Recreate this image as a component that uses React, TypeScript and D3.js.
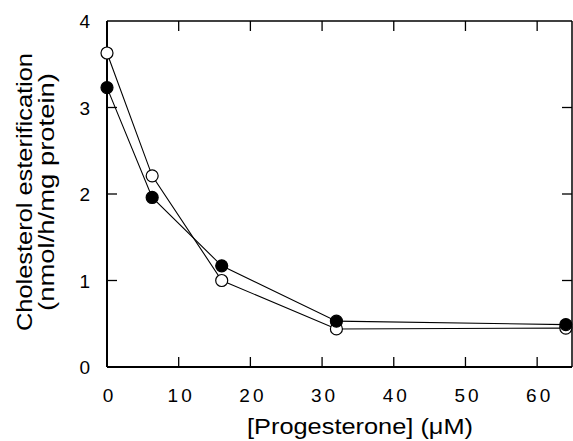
import React, { useEffect, useRef } from 'react';
import * as d3 from 'd3';

// progesterone concentration (uM)
const concentrations = [0, 6.3, 16, 32, 64];
// open circles
const openSeries = [3.63, 2.21, 1.0, 0.44, 0.45];
// filled circles
const filledSeries = [3.23, 1.96, 1.17, 0.53, 0.49];

const xTicks = [0, 10, 20, 30, 40, 50, 60];
const yTicks = [0, 1, 2, 3, 4];

const App: React.FC = () => {
  const svgRef = useRef<SVGSVGElement | null>(null);
  const width = 573;
  const height = 441;

  useEffect(() => {
    if (!svgRef.current) return;
    const svg = d3.select(svgRef.current);
    svg.selectAll('*').remove();

    const left = 107, right = 572, top = 21, bottom = 367;
    const x = d3.scaleLinear().domain([0, 65]).range([left, 573]);
    const y = d3.scaleLinear().domain([0, 4]).range([bottom, top]);
    const font = 'Liberation Sans, Arial, Helvetica, sans-serif';
    const tickLen = 10;

    // frame
    const frame = svg.append('g').attr('stroke', '#000').attr('stroke-width', 2).attr('fill', 'none');
    frame.append('line').attr('x1', left).attr('x2', left).attr('y1', top).attr('y2', bottom);
    frame.append('line').attr('x1', left).attr('x2', right).attr('y1', bottom).attr('y2', bottom);
    frame.append('line').attr('x1', left).attr('x2', right).attr('y1', top).attr('y2', top).attr('stroke-width', 1.5);
    frame.append('line').attr('x1', right).attr('x2', right).attr('y1', top).attr('y2', bottom).attr('stroke-width', 1.5);

    // inward ticks on all sides
    const ticks = svg.append('g').attr('stroke', '#000').attr('stroke-width', 1.3);
    xTicks.filter(t => t > 0).forEach(t => {
      ticks.append('line').attr('x1', x(t)).attr('x2', x(t)).attr('y1', bottom).attr('y2', bottom - tickLen);
      ticks.append('line').attr('x1', x(t)).attr('x2', x(t)).attr('y1', top).attr('y2', top + tickLen);
    });
    yTicks.filter(t => t > 0 && t < 4).forEach(t => {
      ticks.append('line').attr('x1', left).attr('x2', left + tickLen).attr('y1', y(t)).attr('y2', y(t));
      ticks.append('line').attr('x1', right).attr('x2', right - tickLen).attr('y1', y(t)).attr('y2', y(t));
    });

    // tick labels
    svg.append('g').selectAll('text')
      .data(xTicks).enter().append('text')
      .attr('x', d => x(d) + 2.5)
      .attr('y', 402)
      .attr('text-anchor', 'middle')
      .style('font-family', font)
      .style('font-size', '19px')
      .style('letter-spacing', '3px')
      .text(d => String(d));

    svg.append('g').selectAll('text')
      .data(yTicks).enter().append('text')
      .attr('x', 90)
      .attr('y', d => y(d) + 7)
      .attr('text-anchor', 'end')
      .style('font-family', font)
      .style('font-size', '19px')
      .text(d => String(d));

    // axis titles
    svg.append('text')
      .attr('x', 360)
      .attr('y', 434)
      .attr('text-anchor', 'middle')
      .attr('textLength', 226)
      .attr('lengthAdjust', 'spacingAndGlyphs')
      .style('font-family', font)
      .style('font-size', '22px')
      .text('[Progesterone] (\u03bcM)');

    const yTitle = svg.append('g').attr('transform', 'translate(0,192) rotate(-90)');
    yTitle.append('text')
      .attr('x', 0).attr('y', 32)
      .attr('text-anchor', 'middle')
      .attr('textLength', 278)
      .attr('lengthAdjust', 'spacingAndGlyphs')
      .style('font-family', font)
      .style('font-size', '22px')
      .text('Cholesterol esterification');
    yTitle.append('text')
      .attr('x', 0).attr('y', 54)
      .attr('text-anchor', 'middle')
      .attr('textLength', 238)
      .attr('lengthAdjust', 'spacingAndGlyphs')
      .style('font-family', font)
      .style('font-size', '22px')
      .text('(nmol/h/mg protein)');

    // series
    const line = d3.line<number>()
      .x((_, i) => x(concentrations[i]))
      .y(d => y(d));

    const series = [
      { values: openSeries, fill: '#fff' },
      { values: filledSeries, fill: '#000' },
    ];
    series.forEach(s => {
      svg.append('path')
        .attr('d', line(s.values))
        .attr('fill', 'none')
        .attr('stroke', '#000')
        .attr('stroke-width', 1.1);
    });
    series.forEach(s => {
      svg.append('g').selectAll('circle')
        .data(s.values).enter().append('circle')
        .attr('cx', (_, i) => x(concentrations[i]))
        .attr('cy', d => y(d))
        .attr('r', 6)
        .attr('fill', s.fill)
        .attr('stroke', '#000')
        .attr('stroke-width', 1.2);
    });
  }, []);

  return (
    <svg
      ref={svgRef}
      width={width}
      height={height}
      style={{ position: 'absolute', left: 0, top: 0, background: '#fff' }}
    />
  );
};

export default App;
